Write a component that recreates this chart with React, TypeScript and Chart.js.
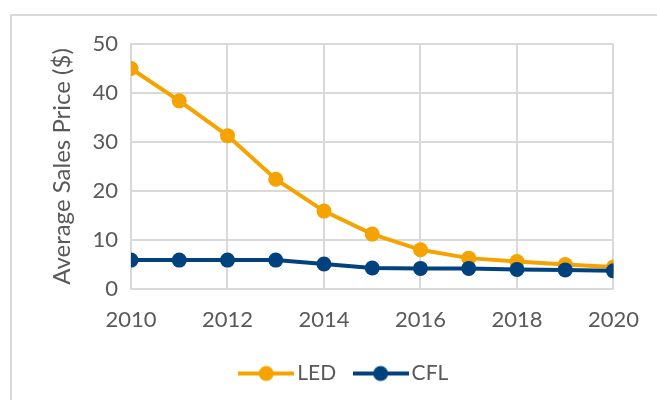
import { useEffect, useRef } from "react";
import { Chart, registerables } from "chart.js";

Chart.register(...registerables);

const years = [2010, 2011, 2012, 2013, 2014, 2015, 2016, 2017, 2018, 2019, 2020];
const ledPrices = [45, 38.4, 31.3, 22.4, 15.9, 11.2, 8.0, 6.3, 5.6, 5.0, 4.5];
const cflPrices = [5.9, 5.9, 5.9, 5.9, 5.1, 4.3, 4.2, 4.2, 4.0, 3.9, 3.7];
const seriesNames = ["LED", "CFL"];
const yAxisTitle = "Average Sales Price ($)";

const ORANGE = "#F5A300";
const NAVY = "#00417E";
const GRID = "#d9d9d9";
const TEXT = "#595959";
const FONT = "Lato";

function legendMarker(color: string): HTMLCanvasElement {
  const c = document.createElement("canvas");
  c.width = 56;
  c.height = 18;
  const ctx = c.getContext("2d")!;
  ctx.strokeStyle = color;
  ctx.lineWidth = 4;
  ctx.beginPath();
  ctx.moveTo(0, 9);
  ctx.lineTo(56, 9);
  ctx.stroke();
  ctx.fillStyle = color;
  ctx.beginPath();
  ctx.arc(28, 9, 7.5, 0, Math.PI * 2);
  ctx.fill();
  return c;
}

const framePlugin = {
  id: "frame",
  beforeDraw(chart: any) {
    const ctx = chart.ctx;
    ctx.save();
    ctx.fillStyle = "#ffffff";
    ctx.fillRect(0, 0, chart.width, chart.height);
    ctx.strokeStyle = GRID;
    ctx.lineWidth = 2;
    ctx.strokeRect(11, 15, 800, 600);
    ctx.restore();
  },
};

export default function App() {
  const ref = useRef<HTMLCanvasElement | null>(null);

  useEffect(() => {
    if (!ref.current) return;
    const markers = [legendMarker(ORANGE), legendMarker(NAVY)];
    const chart = new Chart(ref.current, {
      type: "line",
      data: {
        datasets: [
          {
            label: seriesNames[0],
            data: years.map((x, i) => ({ x, y: ledPrices[i] })),
            borderColor: ORANGE,
            backgroundColor: ORANGE,
            borderWidth: 4,
            pointRadius: 7.5,
            pointBorderWidth: 0,
            pointBackgroundColor: ORANGE,
            tension: 0,
            order: 1,
          },
          {
            label: seriesNames[1],
            data: years.map((x, i) => ({ x, y: cflPrices[i] })),
            borderColor: NAVY,
            backgroundColor: NAVY,
            borderWidth: 4,
            pointRadius: 7.5,
            pointBorderWidth: 0,
            pointBackgroundColor: NAVY,
            tension: 0,
            order: 0,
          },
        ],
      },
      options: {
        responsive: false,
        animation: false,
        layout: { padding: { top: 44, right: 42, left: 79, bottom: 6 } },
        scales: {
          x: {
            type: "linear",
            min: 2010,
            max: 2020,
            afterFit(scale: any) {
              scale.height = 50;
            },
            ticks: {
              stepSize: 2,
              color: TEXT,
              font: { family: FONT, size: 22 },
              padding: 18,
              callback: (v: any) => String(v),
            },
            grid: { color: GRID, lineWidth: 2, drawTicks: false },
            border: { color: GRID, width: 2 },
          },
          y: {
            min: 0,
            max: 50,
            afterFit(scale: any) {
              scale.width = 52;
            },
            ticks: {
              stepSize: 10,
              color: TEXT,
              font: { family: FONT, size: 22 },
              padding: 13,
            },
            grid: { color: GRID, lineWidth: 2, drawTicks: false },
            border: { color: GRID, width: 2 },
            title: {
              display: true,
              text: yAxisTitle,
              color: TEXT,
              font: { family: FONT, size: 24 },
              padding: { top: -31.4, bottom: 0 },
            },
          },
        },
        plugins: {
          tooltip: { enabled: false },
          legend: {
            position: "bottom",
            labels: {
              usePointStyle: true,
              pointStyleWidth: 41,
              boxHeight: 18,
              padding: 24,
              color: TEXT,
              font: { family: FONT, size: 21 },
              generateLabels: () =>
                seriesNames.map((name, i) => ({
                  text: name,
                  fillStyle: i === 0 ? ORANGE : NAVY,
                  strokeStyle: i === 0 ? ORANGE : NAVY,
                  lineWidth: 0,
                  pointStyle: markers[i],
                  fontColor: TEXT,
                  hidden: false,
                  datasetIndex: i,
                })),
            },
          },
        },
      },
      plugins: [framePlugin],
    } as any);
    return () => chart.destroy();
  }, []);

  return (
    <div style={{ position: "absolute", left: 0, top: 0, width: 657, height: 400, overflow: "hidden" }}>
      <canvas ref={ref} width={657} height={400} style={{ display: "block" }} />
    </div>
  );
}
